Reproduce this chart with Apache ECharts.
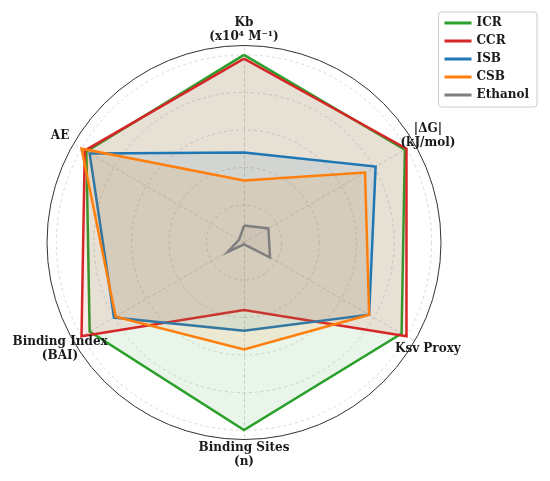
<!DOCTYPE html>
<html>
<head>
<meta charset="utf-8">
<script src="https://cdn.jsdelivr.net/npm/echarts@6/dist/echarts.min.js"></script>
<style>
html,body{margin:0;padding:0;background:#fff;}
#main{width:550px;height:481px;}
</style>
</head>
<body>
<div id="main"></div>
<script>
// Axes in clockwise order starting at the top
const categories = ['Kb\n(x10\u2074 M\u207B\u00B9)', '|\u0394G|\n(kJ/mol)', 'Ksv Proxy', 'Binding Sites\n(n)', 'Binding Index\n(BAI)', 'AE'];
const seriesNames = ['ICR', 'CCR', 'ISB', 'CSB', 'Ethanol'];
const icrValues = [1.00, 0.99, 0.97, 1.00, 0.95, 0.97];
const ccrValues = [0.98, 1.00, 1.00, 0.36, 1.00, 0.98];
const isbValues = [0.48, 0.81, 0.77, 0.47, 0.80, 0.95];
const csbValues = [0.33, 0.745, 0.77, 0.57, 0.79, 1.00];
const ethanolValues = [0.09, 0.15, 0.16, 0.01, 0.10, 0.03];
const gridTicks = [0.2, 0.4, 0.6, 0.8, 1.0];
const outerLimit = 1.05;

const colors = ['#2ca02c', '#d62728', '#1f77b4', '#ff7f0e', '#7f7f7f'];
const allValues = [icrValues, ccrValues, isbValues, csbValues, ethanolValues];

const CX = 244, CY = 242.5, R = 197;
const font = '"DejaVu Serif", serif';

// ECharts radar runs counter-clockwise; reorder so the picture runs clockwise
const order = categories.map((_, j) => (categories.length - j) % categories.length);
const reorder = arr => order.map(i => arr[i]);

const chart = echarts.init(document.getElementById('main'), null, {renderer: 'canvas'});

const labelR = R * 1.078;
const graphics = categories.map((c, i) => {
  const th = (90 - 60 * i) * Math.PI / 180;
  return {
    type: 'text',
    x: CX + labelR * Math.cos(th),
    y: CY - labelR * Math.sin(th),
    z: 100,
    style: {
      text: c,
      font: 'bold 12px ' + font,
      fill: '#1a1a1a',
      align: 'center',
      verticalAlign: 'middle',
      lineHeight: 14
    }
  };
});

chart.setOption({
  animation: false,
  backgroundColor: '#fff',
  legend: {
    orient: 'vertical',
    right: 13,
    top: 12,
    padding: [4, 8, 5, 6],
    itemGap: 4,
    itemWidth: 27,
    itemHeight: 3,
    icon: 'rect',
    borderColor: '#cccccc',
    borderWidth: 1,
    borderRadius: 3,
    backgroundColor: '#fff',
    data: seriesNames,
    textStyle: {fontFamily: font, fontWeight: 'bold', fontSize: 12, color: '#1a1a1a', lineHeight: 14}
  },
  radar: [
    {
      center: [CX, CY],
      radius: R,
      startAngle: 90,
      shape: 'circle',
      splitNumber: 1,
      indicator: reorder(categories).map(n => ({name: n, max: outerLimit, min: 0})),
      axisName: {show: false},
      axisLine: {show: true, lineStyle: {color: '#cfcfcf', type: [3, 3], width: 0.8}},
      splitLine: {show: true, lineStyle: {color: '#333', width: 1}},
      splitArea: {show: false},
      axisTick: {show: false},
      axisLabel: {show: false}
    },
    {
      center: [CX, CY],
      radius: R / outerLimit,
      startAngle: 90,
      shape: 'circle',
      splitNumber: gridTicks.length,
      indicator: reorder(categories).map(n => ({name: n, max: gridTicks[gridTicks.length - 1], min: 0})),
      axisName: {show: false},
      axisLine: {show: false},
      splitLine: {show: true, lineStyle: {color: '#cfcfcf', type: [3, 3], width: 0.8}},
      splitArea: {show: false},
      axisTick: {show: false},
      axisLabel: {show: false}
    }
  ],
  series: seriesNames.map((name, k) => ({
    type: 'radar',
    name: name,
    radarIndex: 1,
    symbol: 'none',
    z: 2 + k,
    itemStyle: {color: colors[k]},
    lineStyle: {color: colors[k], width: 2.5, join: 'miter'},
    areaStyle: {color: colors[k], opacity: 0.1},
    data: [{name: name, value: reorder(allValues[k])}]
  })),
  graphic: graphics
});
</script>
</body>
</html>
